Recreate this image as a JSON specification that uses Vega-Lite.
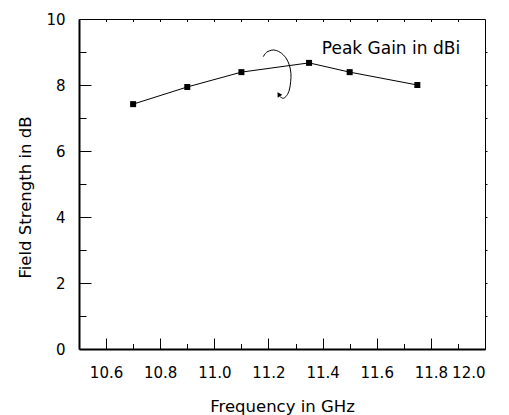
{
  "$schema": "https://vega.github.io/schema/vega-lite/v6.json",
  "width": 406,
  "height": 330,
  "autosize": "none",
  "padding": {"left": 79, "top": 19, "right": 24, "bottom": 66},
  "background": "white",
  "config": {
    "view": {"stroke": null},
    "font": "DejaVu Sans",
    "axis": {
      "grid": false,
      "domainColor": "black",
      "tickColor": "black",
      "labelColor": "black",
      "titleColor": "black",
      "labelFont": "DejaVu Sans",
      "titleFont": "DejaVu Sans",
      "labelFontSize": 15,
      "titleFontSize": 16.5,
      "titleFontWeight": "normal",
      "tickWidth": 1
    }
  },
  "datasets": {
    "gain": [
      {"freq": 10.7, "gain": 7.42},
      {"freq": 10.9, "gain": 7.94},
      {"freq": 11.1, "gain": 8.39},
      {"freq": 11.35, "gain": 8.67},
      {"freq": 11.5, "gain": 8.39},
      {"freq": 11.75, "gain": 8.0}
    ],
    "arc": [
      {"i": 1, "freq": 11.181, "gain": 8.858},
      {"i": 2, "freq": 11.193, "gain": 8.991},
      {"i": 3, "freq": 11.218, "gain": 9.061},
      {"i": 4, "freq": 11.243, "gain": 8.991},
      {"i": 5, "freq": 11.264, "gain": 8.827},
      {"i": 6, "freq": 11.277, "gain": 8.606},
      {"i": 7, "freq": 11.283, "gain": 8.355},
      {"i": 8, "freq": 11.282, "gain": 8.1},
      {"i": 9, "freq": 11.277, "gain": 7.848},
      {"i": 10, "freq": 11.267, "gain": 7.676},
      {"i": 11, "freq": 11.255, "gain": 7.597},
      {"i": 12, "freq": 11.243, "gain": 7.645}
    ],
    "arrowhead": [
      {"freq": 11.238, "gain": 7.72}
    ],
    "note": [
      {"freq": 11.397, "gain": 8.94, "label": "Peak Gain in dBi"}
    ]
  },
  "layer": [
    {
      "data": {"name": "gain"},
      "mark": {"type": "line", "color": "black", "strokeWidth": 1},
      "encoding": {
        "x": {
          "field": "freq", "type": "quantitative",
          "scale": {"domain": [10.5, 12.0], "nice": false, "zero": false},
          "axis": {
            "orient": "bottom",
            "values": [10.6, 10.8, 11.0, 11.2, 11.4, 11.6, 11.8, 12.0],
            "format": ".1f",
            "ticks": false,
            "labelPadding": 16,
            "domainWidth": 2,
            "title": "Frequency in GHz",
            "titlePadding": 18
          }
        },
        "y": {
          "field": "gain", "type": "quantitative",
          "scale": {"domain": [0, 10], "nice": false},
          "axis": {
            "orient": "left",
            "values": [0, 2, 4, 6, 8, 10],
            "ticks": false,
            "labelPadding": 14,
            "domainWidth": 2,
            "title": "Field Strength in dB",
            "titlePadding": 12,
            "titleY": 178
          }
        }
      }
    },
    {
      "data": {"name": "gain"},
      "mark": {"type": "point", "shape": "square", "filled": true, "color": "black", "size": 36, "opacity": 1},
      "encoding": {
        "x": {
          "field": "freq", "type": "quantitative",
          "axis": {
            "orient": "bottom",
            "values": [10.6, 10.8, 11.0, 11.2, 11.4, 11.6, 11.8, 12.0],
            "offset": -11,
            "tickSize": 11,
            "labels": false,
            "domain": false,
            "title": null
          }
        },
        "y": {
          "field": "gain", "type": "quantitative",
          "axis": {
            "orient": "left",
            "values": [0, 2, 4, 6, 8, 10],
            "offset": -12,
            "tickSize": 12,
            "labels": false,
            "domain": false,
            "title": null
          }
        }
      }
    },
    {
      "data": {"name": "note"},
      "mark": {"type": "text", "align": "left", "baseline": "alphabetic", "fontSize": 17, "font": "DejaVu Sans", "color": "black"},
      "encoding": {
        "x": {
          "field": "freq", "type": "quantitative",
          "axis": {
            "orient": "top",
            "values": [10.6, 10.7, 10.8, 10.9, 11.0, 11.1, 11.2, 11.3, 11.4, 11.5, 11.6, 11.7, 11.8, 11.9],
            "offset": -2.5,
            "tickSize": 2.5,
            "labels": false,
            "domain": false,
            "title": null
          }
        },
        "y": {
          "field": "gain", "type": "quantitative",
          "axis": {
            "orient": "right",
            "values": [1, 2, 3, 4, 5, 6, 7, 8, 9],
            "tickSize": 2,
            "labels": false,
            "domainWidth": 1,
            "title": null
          }
        },
        "text": {"field": "label"}
      }
    },
    {
      "data": {"name": "arc"},
      "mark": {"type": "line", "color": "black", "strokeWidth": 1, "interpolate": "cardinal"},
      "encoding": {
        "x": {
          "field": "freq", "type": "quantitative",
          "axis": {
            "orient": "bottom",
            "values": [10.7, 10.9, 11.1, 11.3, 11.5, 11.7, 11.9],
            "offset": -5.5,
            "tickSize": 5.5,
            "labels": false,
            "domain": false,
            "title": null
          }
        },
        "y": {
          "field": "gain", "type": "quantitative",
          "axis": {
            "orient": "left",
            "values": [1, 3, 5, 7, 9],
            "offset": -7,
            "tickSize": 7,
            "labels": false,
            "domain": false,
            "title": null
          }
        },
        "order": {"field": "i", "type": "quantitative"}
      }
    },
    {
      "data": {"name": "arrowhead"},
      "mark": {"type": "point", "shape": "triangle-up", "filled": true, "color": "black", "size": 30, "angle": 327, "opacity": 1},
      "encoding": {
        "x": {
          "field": "freq", "type": "quantitative",
          "axis": {
            "orient": "top",
            "ticks": false,
            "labels": false,
            "domain": true,
            "domainWidth": 1,
            "title": null
          }
        },
        "y": {"field": "gain", "type": "quantitative", "axis": null}
      }
    }
  ],
  "resolve": {"axis": {"x": "independent", "y": "independent"}}
}
